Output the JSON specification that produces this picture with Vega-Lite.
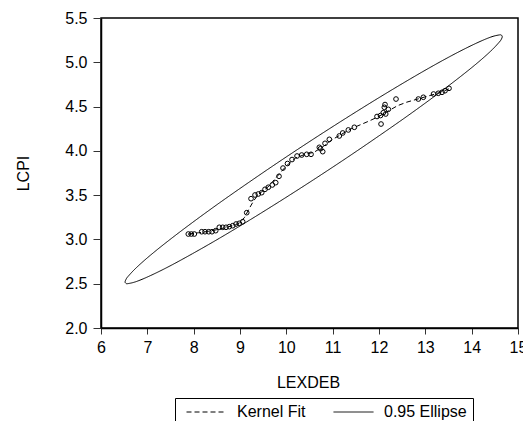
{
  "$schema": "https://vega.github.io/schema/vega-lite/v6.json",
  "autosize": "none",
  "width": 417,
  "height": 310,
  "padding": {"left": 101, "top": 18, "right": 5, "bottom": 93},
  "background": "white",
  "config": {
    "font": "Liberation Sans",
    "view": {"stroke": "black", "strokeWidth": 1.5},
    "axis": {
      "labelFont": "Liberation Sans",
      "titleFont": "Liberation Sans",
      "labelFontSize": 16,
      "titleFontSize": 16,
      "titleFontWeight": "normal",
      "labelColor": "black",
      "titleColor": "black",
      "domainColor": "black",
      "domainWidth": 1.5,
      "tickColor": "#333",
      "grid": false
    },
    "legend": {
      "labelFont": "Liberation Sans",
      "labelFontSize": 16,
      "labelColor": "black"
    }
  },
  "datasets": {
    "ellipse": [
      {"i": 0, "x": 14.66, "y": 5.29},
      {"i": 1, "x": 14.645, "y": 5.305},
      {"i": 2, "x": 14.598, "y": 5.309},
      {"i": 3, "x": 14.415, "y": 5.285},
      {"i": 4, "x": 14.115, "y": 5.219},
      {"i": 5, "x": 13.708, "y": 5.114},
      {"i": 6, "x": 13.206, "y": 4.972},
      {"i": 7, "x": 12.625, "y": 4.797},
      {"i": 8, "x": 11.982, "y": 4.595},
      {"i": 9, "x": 11.297, "y": 4.372},
      {"i": 10, "x": 10.59, "y": 4.135},
      {"i": 11, "x": 9.883, "y": 3.891},
      {"i": 12, "x": 9.198, "y": 3.647},
      {"i": 13, "x": 8.555, "y": 3.412},
      {"i": 14, "x": 7.974, "y": 3.191},
      {"i": 15, "x": 7.472, "y": 2.992},
      {"i": 16, "x": 7.065, "y": 2.821},
      {"i": 17, "x": 6.765, "y": 2.682},
      {"i": 18, "x": 6.582, "y": 2.581},
      {"i": 19, "x": 6.536, "y": 2.545},
      {"i": 20, "x": 6.52, "y": 2.52},
      {"i": 21, "x": 6.536, "y": 2.505},
      {"i": 22, "x": 6.582, "y": 2.501},
      {"i": 23, "x": 6.765, "y": 2.525},
      {"i": 24, "x": 7.065, "y": 2.591},
      {"i": 25, "x": 7.472, "y": 2.696},
      {"i": 26, "x": 7.974, "y": 2.839},
      {"i": 27, "x": 8.555, "y": 3.013},
      {"i": 28, "x": 9.198, "y": 3.215},
      {"i": 29, "x": 9.883, "y": 3.438},
      {"i": 30, "x": 10.59, "y": 3.675},
      {"i": 31, "x": 11.297, "y": 3.919},
      {"i": 32, "x": 11.982, "y": 4.163},
      {"i": 33, "x": 12.625, "y": 4.398},
      {"i": 34, "x": 13.206, "y": 4.619},
      {"i": 35, "x": 13.708, "y": 4.818},
      {"i": 36, "x": 14.115, "y": 4.989},
      {"i": 37, "x": 14.415, "y": 5.128},
      {"i": 38, "x": 14.598, "y": 5.229},
      {"i": 39, "x": 14.645, "y": 5.265}
    ],
    "kernel": [
      {"x": 7.88, "y": 3.06},
      {"x": 8.1, "y": 3.075},
      {"x": 8.3, "y": 3.09},
      {"x": 8.5, "y": 3.11},
      {"x": 8.7, "y": 3.135},
      {"x": 8.9, "y": 3.165},
      {"x": 9.0, "y": 3.19},
      {"x": 9.1, "y": 3.25},
      {"x": 9.2, "y": 3.35},
      {"x": 9.3, "y": 3.44},
      {"x": 9.4, "y": 3.51},
      {"x": 9.6, "y": 3.59},
      {"x": 9.8, "y": 3.71},
      {"x": 10.0, "y": 3.83},
      {"x": 10.2, "y": 3.92},
      {"x": 10.4, "y": 3.96},
      {"x": 10.6, "y": 3.985},
      {"x": 10.8, "y": 4.05},
      {"x": 11.0, "y": 4.13},
      {"x": 11.2, "y": 4.19},
      {"x": 11.4, "y": 4.25},
      {"x": 11.6, "y": 4.295},
      {"x": 11.8, "y": 4.34},
      {"x": 12.0, "y": 4.39},
      {"x": 12.2, "y": 4.45},
      {"x": 12.4, "y": 4.51},
      {"x": 12.6, "y": 4.55},
      {"x": 12.8, "y": 4.58},
      {"x": 13.0, "y": 4.61},
      {"x": 13.2, "y": 4.64},
      {"x": 13.4, "y": 4.675},
      {"x": 13.51, "y": 4.70}
    ],
    "points": [
      {"LEXDEB": 7.884, "LCPI": 3.061},
      {"LEXDEB": 7.949, "LCPI": 3.061},
      {"LEXDEB": 8.014, "LCPI": 3.061},
      {"LEXDEB": 8.173, "LCPI": 3.087},
      {"LEXDEB": 8.245, "LCPI": 3.087},
      {"LEXDEB": 8.325, "LCPI": 3.087},
      {"LEXDEB": 8.396, "LCPI": 3.087},
      {"LEXDEB": 8.476, "LCPI": 3.099},
      {"LEXDEB": 8.553, "LCPI": 3.137},
      {"LEXDEB": 8.627, "LCPI": 3.137},
      {"LEXDEB": 8.698, "LCPI": 3.137},
      {"LEXDEB": 8.769, "LCPI": 3.144},
      {"LEXDEB": 8.843, "LCPI": 3.155},
      {"LEXDEB": 8.914, "LCPI": 3.174},
      {"LEXDEB": 8.985, "LCPI": 3.182},
      {"LEXDEB": 9.058, "LCPI": 3.2},
      {"LEXDEB": 9.145, "LCPI": 3.302},
      {"LEXDEB": 9.238, "LCPI": 3.46},
      {"LEXDEB": 9.324, "LCPI": 3.502},
      {"LEXDEB": 9.395, "LCPI": 3.513},
      {"LEXDEB": 9.469, "LCPI": 3.528},
      {"LEXDEB": 9.54, "LCPI": 3.566},
      {"LEXDEB": 9.611, "LCPI": 3.589},
      {"LEXDEB": 9.697, "LCPI": 3.615},
      {"LEXDEB": 9.771, "LCPI": 3.641},
      {"LEXDEB": 9.842, "LCPI": 3.713},
      {"LEXDEB": 9.928, "LCPI": 3.806},
      {"LEXDEB": 10.025, "LCPI": 3.857},
      {"LEXDEB": 10.123, "LCPI": 3.902},
      {"LEXDEB": 10.231, "LCPI": 3.942},
      {"LEXDEB": 10.332, "LCPI": 3.953},
      {"LEXDEB": 10.44, "LCPI": 3.961},
      {"LEXDEB": 10.533, "LCPI": 3.961},
      {"LEXDEB": 10.712, "LCPI": 4.04},
      {"LEXDEB": 10.738, "LCPI": 4.024},
      {"LEXDEB": 10.785, "LCPI": 3.991},
      {"LEXDEB": 10.835, "LCPI": 4.085},
      {"LEXDEB": 10.928, "LCPI": 4.13},
      {"LEXDEB": 11.143, "LCPI": 4.168},
      {"LEXDEB": 11.217, "LCPI": 4.202},
      {"LEXDEB": 11.338, "LCPI": 4.236},
      {"LEXDEB": 11.467, "LCPI": 4.266},
      {"LEXDEB": 11.957, "LCPI": 4.388},
      {"LEXDEB": 12.033, "LCPI": 4.399},
      {"LEXDEB": 12.093, "LCPI": 4.431},
      {"LEXDEB": 12.145, "LCPI": 4.416},
      {"LEXDEB": 12.201, "LCPI": 4.469},
      {"LEXDEB": 12.115, "LCPI": 4.492},
      {"LEXDEB": 12.13, "LCPI": 4.523},
      {"LEXDEB": 12.044, "LCPI": 4.303},
      {"LEXDEB": 12.367, "LCPI": 4.585},
      {"LEXDEB": 12.849, "LCPI": 4.585},
      {"LEXDEB": 12.957, "LCPI": 4.605},
      {"LEXDEB": 13.177, "LCPI": 4.642},
      {"LEXDEB": 13.28, "LCPI": 4.65},
      {"LEXDEB": 13.36, "LCPI": 4.661},
      {"LEXDEB": 13.425, "LCPI": 4.679},
      {"LEXDEB": 13.511, "LCPI": 4.706}
    ]
  },
  "encoding": {
    "x": {
      "type": "quantitative",
      "scale": {"domain": [6, 15], "nice": false, "zero": false},
      "axis": {
        "title": "LEXDEB",
        "values": [6, 7, 8, 9, 10, 11, 12, 13, 14, 15],
        "format": "d",
        "tickSize": 6,
        "labelPadding": 5,
        "labelFlush": false,
        "labelOverlap": false,
        "titleX": 207,
        "titleY": 54,
        "titleBaseline": "middle",
        "titleAlign": "center"
      }
    },
    "y": {
      "type": "quantitative",
      "scale": {"domain": [2, 5.5], "nice": false, "zero": false},
      "axis": {
        "title": "LCPI",
        "values": [2, 2.5, 3, 3.5, 4, 4.5, 5, 5.5],
        "format": ".1f",
        "tickSize": 8,
        "labelPadding": 6,
        "labelFlush": false,
        "labelOverlap": false,
        "titleAngle": -90,
        "titleX": -78,
        "titleY": 155,
        "titleBaseline": "middle",
        "titleAlign": "center"
      }
    }
  },
  "layer": [
    {
      "data": {"name": "ellipse"},
      "mark": {"type": "line", "interpolate": "cardinal-closed", "color": "black", "strokeWidth": 1},
      "encoding": {
        "x": {"field": "x", "type": "quantitative"},
        "y": {"field": "y", "type": "quantitative"},
        "order": {"field": "i", "type": "quantitative"},
        "strokeDash": {
          "datum": "0.95 Ellipse",
          "type": "nominal",
          "scale": {"domain": ["Kernel Fit", "0.95 Ellipse"], "range": [[5, 3], [1, 0]]},
          "legend": {
            "title": null,
            "orient": "none",
            "legendX": 74,
            "legendY": 380,
            "direction": "horizontal",
            "strokeColor": "black",
            "padding": 6,
            "symbolType": "M-1,0H15",
            "symbolSize": 25,
            "symbolStrokeColor": "black",
            "symbolStrokeWidth": 1,
            "labelOffset": 40,
            "columnPadding": 22
          }
        }
      }
    },
    {
      "data": {"name": "kernel"},
      "mark": {"type": "line", "color": "black", "strokeWidth": 1},
      "encoding": {
        "x": {"field": "x", "type": "quantitative"},
        "y": {"field": "y", "type": "quantitative"},
        "order": {"field": "x", "type": "quantitative"},
        "strokeDash": {"datum": "Kernel Fit", "type": "nominal"}
      }
    },
    {
      "data": {"name": "points"},
      "mark": {"type": "point", "filled": false, "color": "black", "size": 22, "strokeWidth": 1, "opacity": 1},
      "encoding": {
        "x": {"field": "LEXDEB", "type": "quantitative"},
        "y": {"field": "LCPI", "type": "quantitative"}
      }
    }
  ]
}
